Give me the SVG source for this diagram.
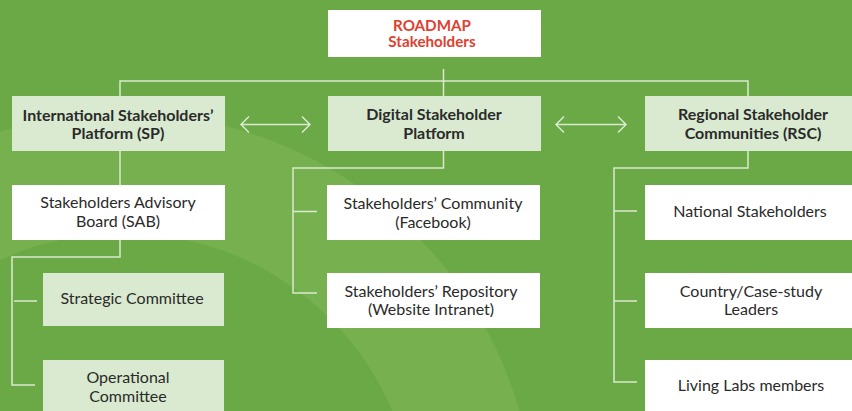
<svg xmlns="http://www.w3.org/2000/svg" width="852" height="411" viewBox="0 0 852 411">
<defs>
<style>
.bg{fill:#6aa945}
.band{fill:#77b14f}
.l1{fill:#d9ead0}
.wb{fill:#ffffff}
.t{font-family:Lato,"Noto Sans","Liberation Sans",sans-serif;font-size:16px;fill:#2a2a2a;text-anchor:middle}
.b{font-weight:bold}
.red{fill:#e0402f;font-weight:bold;font-size:15.2px}
.ln{fill:none;stroke:#d9ead0;stroke-width:1.5}
</style>
<mask id="ring">
<rect width="852" height="411" fill="#fff"/>
<circle cx="123" cy="526" r="293" fill="#000"/>
</mask>
</defs>
<rect class="bg" width="852" height="411"/>
<circle class="band" cx="123" cy="526" r="413" mask="url(#ring)"/>

<g id="connectors">
<path class="ln" d="M443.5 69 V99 M120 99 V81 H748 V99"/>
<path class="ln" d="M120 151 V185 M120 240 V257 H12 V385 H35 M14 301 H37"/>
<path class="ln" d="M443.5 151 V168 H293 V293 H317 M293 211.5 H317"/>
<path class="ln" d="M748 151 V168 H614 V382 H637 M614 211 H637 M614 301 H637"/>
<path class="ln" d="M241 124.5 H310 M249 116.5 L241 124.5 L249 132.5 M302 116.5 L310 124.5 L302 132.5"/>
<path class="ln" d="M556 124.5 H626 M564 116.5 L556 124.5 L564 132.5 M618 116.5 L626 124.5 L618 132.5"/>
</g>

<g id="roadmap">
<rect class="wb" x="328" y="10" width="213" height="47"/>
<text class="t red" x="432" y="30.5">ROADMAP</text>
<text class="t red" x="432" y="47">Stakeholders</text>
</g>

<g id="sp">
<rect class="l1" x="12" y="96" width="213" height="55"/>
<text class="t b" x="118" y="121">International Stakeholders’</text>
<text class="t b" x="118" y="139">Platform (SP)</text>
</g>
<g id="dsp">
<rect class="l1" x="328" y="96" width="213" height="55"/>
<text class="t b" x="434" y="120">Digital Stakeholder</text>
<text class="t b" x="434" y="138.5">Platform</text>
</g>
<g id="rsc">
<rect class="l1" x="645" y="96" width="215" height="55"/>
<text class="t b" x="753" y="120">Regional Stakeholder</text>
<text class="t b" x="753" y="138.5">Communities (RSC)</text>
</g>

<g id="sab">
<rect class="wb" x="12" y="185" width="213" height="55"/>
<text class="t" x="118" y="208">Stakeholders Advisory</text>
<text class="t" x="118" y="227">Board (SAB)</text>
</g>
<g id="strategic">
<rect class="l1" x="43" y="273" width="181" height="53"/>
<text class="t" x="132" y="304">Strategic Committee</text>
</g>
<g id="operational">
<rect class="l1" x="43" y="360" width="181" height="60"/>
<text class="t" x="128" y="383">Operational</text>
<text class="t" x="128" y="402">Committee</text>
</g>

<g id="community">
<rect class="wb" x="327" y="185" width="213" height="55"/>
<text class="t" x="433" y="209">Stakeholders’ Community</text>
<text class="t" x="433" y="227.5">(Facebook)</text>
</g>
<g id="repository">
<rect class="wb" x="327" y="273" width="213" height="55"/>
<text class="t" x="431" y="297">Stakeholders’ Repository</text>
<text class="t" x="431" y="315">(Website Intranet)</text>
</g>

<g id="national">
<rect class="wb" x="645" y="185" width="215" height="55"/>
<text class="t" x="750" y="217">National Stakeholders</text>
</g>
<g id="country">
<rect class="wb" x="645" y="273" width="215" height="55"/>
<text class="t" x="751" y="297">Country/Case-study</text>
<text class="t" x="751" y="315">Leaders</text>
</g>
<g id="living">
<rect class="wb" x="645" y="360" width="215" height="60"/>
<text class="t" x="751" y="391">Living Labs members</text>
</g>
</svg>
